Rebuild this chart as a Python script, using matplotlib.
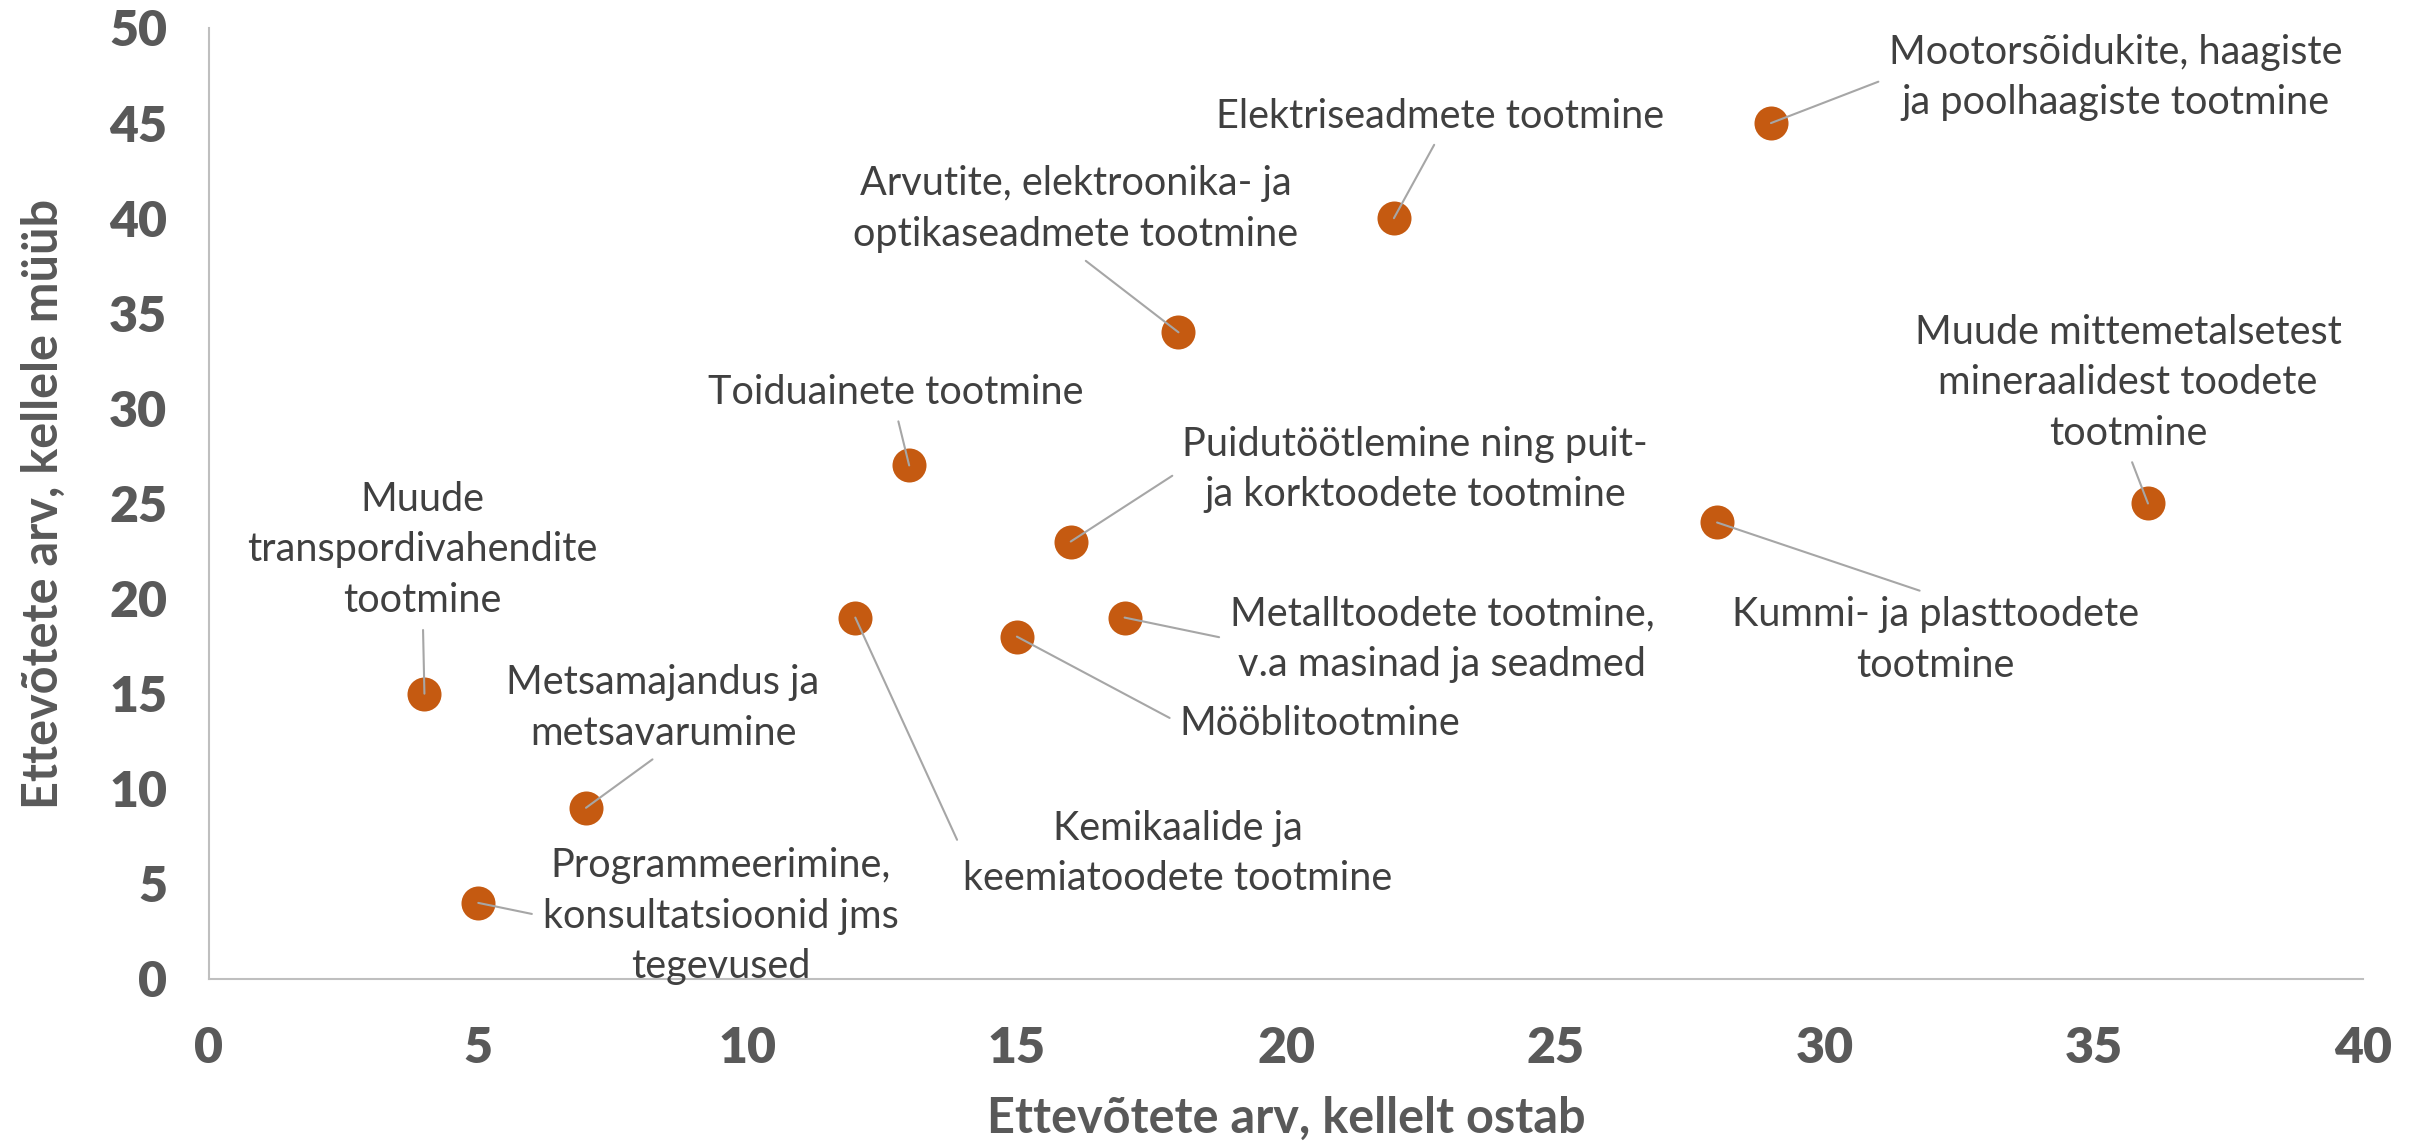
import matplotlib
matplotlib.use('Agg')
import matplotlib.pyplot as plt

##############################################################################

# number of firms it buys from (x) and sells to (y)
ostab = [4, 7, 5, 12, 13, 15, 16, 17, 18, 22, 28, 29, 36]
myyb = [15, 9, 4, 19, 27, 18, 23, 19, 34, 40, 24, 45, 25]
sildid = ['Muude\ntranspordivahendite\ntootmine',
          'Metsamajandus ja\nmetsavarumine',
          'Programmeerimine,\nkonsultatsioonid jms\ntegevused',
          'Kemikaalide ja\nkeemiatoodete tootmine',
          'Toiduainete tootmine',
          'Mööblitootmine',
          'Puidutöötlemine ning puit-\nja korktoodete tootmine',
          'Metalltoodete tootmine,\nv.a masinad ja seadmed',
          'Arvutite, elektroonika- ja\noptikaseadmete tootmine',
          'Elektriseadmete tootmine',
          'Kummi- ja plasttoodete\ntootmine',
          'Mootorsõidukite, haagiste\nja poolhaagiste tootmine',
          'Muude mittemetalsetest\nmineraalidest toodete\ntootmine']

# where the data labels sit (data coordinates)
silt_x = [3.97, 8.43, 9.5, 17.99, 12.75, 20.63, 22.39, 22.9, 16.09, 22.85, 32.06, 35.4, 35.63]
silt_y = [22.56, 14.25, 3.3, 6.6, 30.86, 13.44, 26.79, 17.85, 40.47, 45.36, 17.83, 47.39, 31.35]

# which side of the label the leader line attaches to
kylg = ['b', 'b', 'l', 'l', 'b', 'l', 'l', 'l', 'b', 'b', 't', 'l', 'b']
relpos = {'b': (0.5, 0.0), 't': (0.5, 1.0), 'l': (0.0, 0.5)}

##############################################################################

plt.rcParams['font.family'] = ['Lato', 'DejaVu Sans']

fig = plt.figure(figsize=(24.3, 11.47), dpi=100)
ax = fig.add_axes([0.086, 0.1465, 0.8866, 0.8291])

ax.scatter(ostab, myyb, s=600, color='#C55A11', zorder=2, linewidths=0)

for lab, px, py, tx, ty, k in zip(sildid, ostab, myyb, silt_x, silt_y, kylg):
    ax.annotate(lab, xy=(px, py), xytext=(tx, ty), ha='center', va='center',
                fontsize=28.5, color='#404040', linespacing=1.45,
                arrowprops=dict(arrowstyle='-', color='#A6A6A6', lw=1.5,
                                relpos=relpos[k], shrinkA=6, shrinkB=0),
                zorder=3)

ax.set_xlim(0, 40)
ax.set_ylim(0, 50)
ax.set_xticks(range(0, 41, 5))
ax.set_yticks(range(0, 51, 5))
ax.tick_params(length=0, labelsize=36, labelcolor='#595959')
ax.tick_params(axis='x', pad=34)
ax.tick_params(axis='y', pad=30)
for t in ax.get_xticklabels() + ax.get_yticklabels():
    t.set_fontweight('heavy')

for s in ['top', 'right']:
    ax.spines[s].set_visible(False)
for s in ['left', 'bottom']:
    ax.spines[s].set_color('#BFBFBF')
    ax.spines[s].set_linewidth(1.5)

ax.set_xlabel('Ettevõtete arv, kellelt ostab', fontsize=35, fontweight='bold',
              color='#595959', va='center')
ax.set_ylabel('Ettevõtete arv, kellele müüb', fontsize=35, fontweight='bold',
              color='#595959', va='center')
ax.xaxis.set_label_coords(0.5, -0.147)
ax.yaxis.set_label_coords(-0.0771, 0.5)

plt.savefig('out.png', dpi=100)
plt.close()
